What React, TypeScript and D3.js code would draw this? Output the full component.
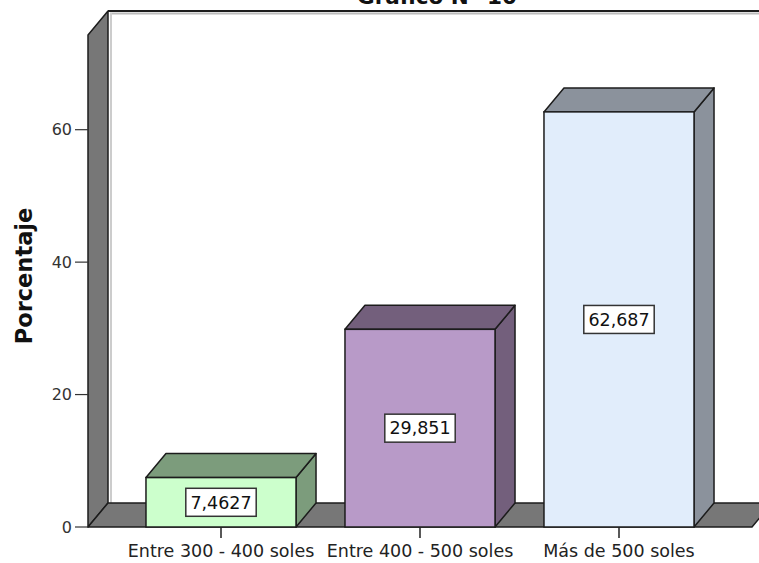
import React from "react";
import * as d3 from "d3";

// Income brackets and their share of respondents (%)
const categories = ["Entre 300 - 400 soles", "Entre 400 - 500 soles", "Más de 500 soles"];
const percentages = [7.4627, 29.851, 62.687];
const valueLabels = ["7,4627", "29,851", "62,687"];
const yTicks = [0, 20, 40, 60];
const frontColors = ["#ccffcc", "#b89ac8", "#e1edfb"];
const shadeColors = ["#7c9c7c", "#735f7c", "#8b929c"];

const W = 759;
const H = 563;
const DX = 20; // depth offset to the right
const DY = 24; // depth offset upwards
const FONT = "'DejaVu Sans', 'Liberation Sans', Arial, sans-serif";
const EDGE = "#1c1c1c";

export default function App() {
  const y = d3.scaleLinear().domain([0, 74.3]).range([527, 35]);
  const x = d3
    .scaleBand<string>()
    .domain(categories)
    .range([121.5, 718.5])
    .paddingInner(0.246)
    .paddingOuter(0.123);

  const y0 = y(0);
  const wallLeft = 88;
  const wallTop = y.range()[1];
  const floorRight = 752;

  const pts = (p: [number, number][]) => p.map((q) => q.join(",")).join(" ");

  return (
    <div style={{ position: "fixed", left: 0, top: 0, background: "#fff" }}>
      <svg width={W} height={H} viewBox={`0 0 ${W} ${H}`} style={{ display: "block" }}>
        <rect width={W} height={H} fill="#fff" />

        {/* title, mostly above the frame */}
        <text x={357} y={4} fontFamily={FONT} fontWeight="bold" fontSize={21.5} fill="#111">
          Gráfico N° 10
        </text>

        {/* back wall */}
        <rect x={wallLeft + DX} y={wallTop - DY} width={W} height={y0 - wallTop} fill="#fff" />
        <line x1={wallLeft + DX + 2} y1={wallTop - DY + 2.5} x2={W} y2={wallTop - DY + 2.5} stroke="#bbb" strokeWidth={2} />
        <line x1={wallLeft + DX + 3} y1={wallTop - DY + 2} x2={wallLeft + DX + 3} y2={y0 - DY} stroke="#ccc" strokeWidth={2} />
        <line x1={wallLeft + DX} y1={wallTop - DY} x2={W} y2={wallTop - DY} stroke={EDGE} strokeWidth={2} />

        {/* left wall */}
        <polygon
          points={pts([
            [wallLeft, wallTop],
            [wallLeft + DX, wallTop - DY],
            [wallLeft + DX, y0 - DY],
            [wallLeft, y0],
          ])}
          fill="#777"
          stroke={EDGE}
          strokeWidth={1.5}
          strokeLinejoin="round"
        />

        {/* floor */}
        <polygon
          points={pts([
            [wallLeft, y0],
            [wallLeft + DX, y0 - DY],
            [floorRight + DX, y0 - DY],
            [floorRight, y0],
          ])}
          fill="#777"
          stroke={EDGE}
          strokeWidth={1.5}
          strokeLinejoin="round"
        />

        {/* y axis */}
        {yTicks.map((t) => (
          <g key={t}>
            <line x1={75} x2={wallLeft} y1={y(t)} y2={y(t)} stroke="#333" strokeWidth={1.2} />
            <text
              x={72}
              y={y(t)}
              dy="0.36em"
              textAnchor="end"
              fontFamily={FONT}
              fontSize={16}
              fill="#333"
            >
              {t}
            </text>
          </g>
        ))}
        <text
          transform={`translate(32, ${276}) rotate(-90)`}
          textAnchor="middle"
          fontFamily={FONT}
          fontWeight="bold"
          fontSize={22.5}
          fill="#111"
        >
          Porcentaje
        </text>

        {/* bars */}
        {categories.map((c, i) => {
          const x0 = x(c) as number;
          const x1 = x0 + x.bandwidth();
          const yt = y(percentages[i]);
          const cx = (x0 + x1) / 2;
          const cy = (yt + y0) / 2;
          const label = valueLabels[i];
          const bw = label.length * 10.4 + 8;
          return (
            <g key={c}>
              <polygon
                points={pts([
                  [x1, yt],
                  [x1 + DX, yt - DY],
                  [x1 + DX, y0 - DY],
                  [x1, y0],
                ])}
                fill={shadeColors[i]}
                stroke={EDGE}
                strokeWidth={1.5}
                strokeLinejoin="round"
              />
              <polygon
                points={pts([
                  [x0, yt],
                  [x0 + DX, yt - DY],
                  [x1 + DX, yt - DY],
                  [x1, yt],
                ])}
                fill={shadeColors[i]}
                stroke={EDGE}
                strokeWidth={1.5}
                strokeLinejoin="round"
              />
              <rect
                x={x0}
                y={yt}
                width={x1 - x0}
                height={y0 - yt}
                fill={frontColors[i]}
                stroke={EDGE}
                strokeWidth={1.5}
              />
              <rect
                x={cx - bw / 2}
                y={cy - 14}
                width={bw}
                height={28}
                fill="#fff"
                stroke="#333"
                strokeWidth={1.5}
              />
              <text
                x={cx}
                y={cy}
                dy="0.36em"
                textAnchor="middle"
                fontFamily={FONT}
                fontSize={17.5}
                fill="#111"
              >
                {label}
              </text>
              <line x1={cx} x2={cx} y1={y0} y2={y0 + 11} stroke="#222" strokeWidth={1.5} />
              <text
                x={cx}
                y={557}
                textAnchor="middle"
                fontFamily={FONT}
                fontSize={17.5}
                fill="#222"
              >
                {c}
              </text>
            </g>
          );
        })}
      </svg>
    </div>
  );
}
